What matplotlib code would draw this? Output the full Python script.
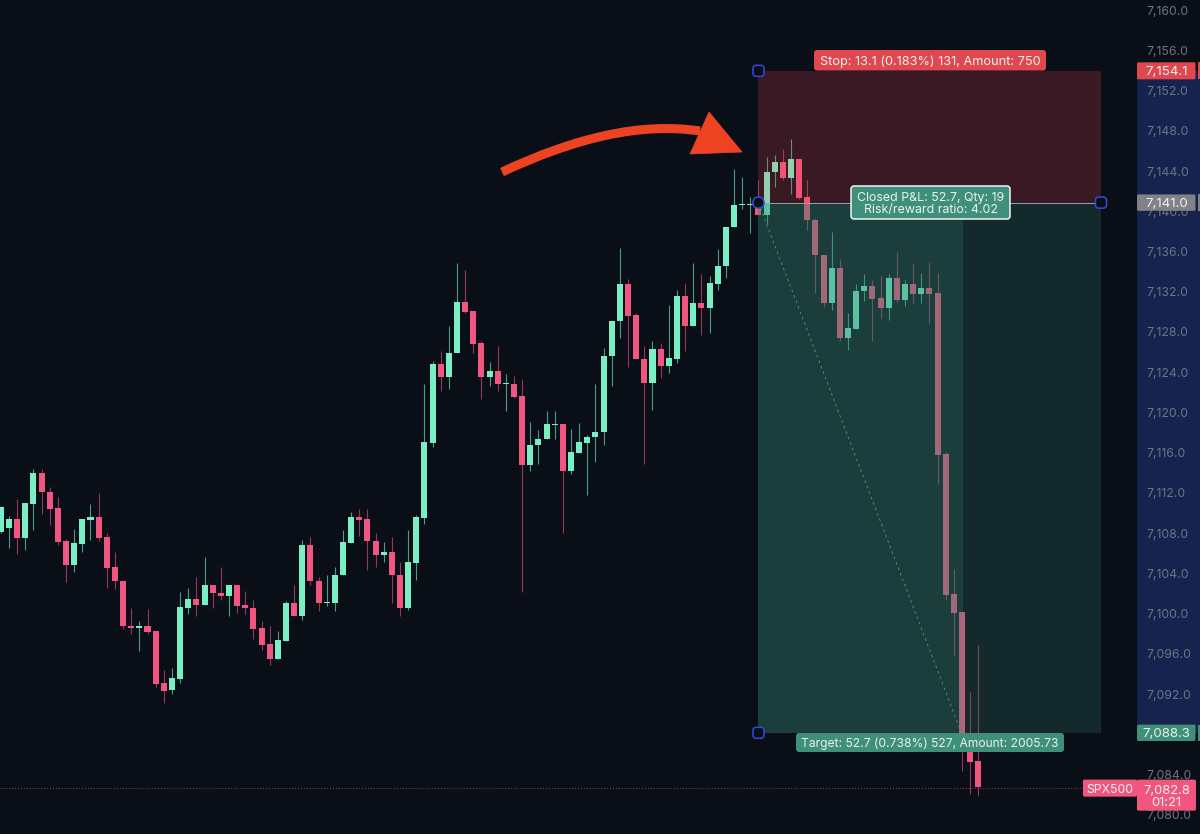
import matplotlib
matplotlib.use('Agg')
import matplotlib.pyplot as plt
import numpy as np
from matplotlib.patches import Rectangle, FancyBboxPatch, Polygon, PathPatch
from matplotlib.path import Path

plt.rcParams['font.family'] = ['Inter', 'DejaVu Sans']

# --- Candle data ---
opens = [7108.1, 7108.5, 7109.4, 7107.5, 7110.9, 7114.0, 7112.1, 7110.5, 7107.2, 7104.8,
         7106.9, 7109.3, 7109.6, 7107.6, 7104.6, 7103.2, 7098.8, 7098.6, 7098.8, 7098.3,
         7093.1, 7092.4, 7093.5, 7100.6, 7101.5, 7100.9, 7102.9, 7102.1, 7101.8, 7102.9,
         7100.9, 7100.6, 7098.6, 7097.0, 7095.5, 7097.3, 7101.1, 7099.8, 7106.8, 7103.2,
         7101.1, 7101.1, 7103.8, 7107.0, 7109.6, 7109.4, 7107.2, 7105.8, 7106.1, 7103.8,
         7100.6, 7105.0, 7109.5, 7117.0, 7124.8, 7123.5, 7125.9, 7131.0, 7130.1, 7126.9,
         7123.5, 7124.1, 7122.8, 7122.8, 7121.6, 7114.8, 7116.8, 7117.4, 7118.8, 7118.9,
         7114.2, 7116.0, 7117.0, 7117.6, 7118.1, 7125.6, 7129.1, 7132.8, 7129.7, 7125.3,
         7122.9, 7126.3, 7124.6, 7125.3, 7131.6, 7128.6, 7130.9, 7130.4, 7132.8, 7134.6,
         7138.4, 7140.6, 7140.6, 7140.5, 7139.6, 7143.9, 7144.9, 7143.3, 7145.2, 7141.4,
         7139.1, 7135.7, 7130.9, 7134.4, 7127.4, 7128.3, 7132.1, 7132.6, 7131.4, 7130.4,
         7133.4, 7131.2, 7132.8, 7131.8, 7132.4, 7131.9, 7115.9, 7102.0, 7100.2, 7086.3, 7085.4]
highs = [7110.7, 7109.7, 7111.4, 7111.0, 7114.4, 7114.4, 7112.6, 7111.6, 7107.4, 7108.4,
         7109.4, 7110.9, 7112.0, 7108.0, 7106.1, 7103.2, 7100.6, 7099.3, 7100.5, 7098.3,
         7094.4, 7094.6, 7102.2, 7102.6, 7103.6, 7105.6, 7102.9, 7104.6, 7102.9, 7102.9,
         7102.3, 7101.4, 7099.3, 7098.8, 7098.3, 7101.3, 7102.9, 7107.3, 7107.6, 7103.6,
         7103.8, 7104.6, 7108.3, 7110.1, 7110.4, 7110.4, 7108.0, 7107.1, 7107.6, 7105.1,
         7108.3, 7109.8, 7122.8, 7125.1, 7126.1, 7128.6, 7134.9, 7134.2, 7130.1, 7127.1,
         7125.0, 7126.6, 7123.8, 7123.6, 7123.3, 7119.1, 7118.3, 7120.1, 7120.1, 7118.9,
         7118.4, 7119.0, 7117.8, 7122.8, 7126.4, 7129.1, 7136.3, 7133.3, 7129.9, 7126.6,
         7127.1, 7126.9, 7130.7, 7132.2, 7132.9, 7134.9, 7133.8, 7133.6, 7136.2, 7138.4,
         7144.2, 7143.4, 7141.4, 7143.1, 7145.4, 7145.6, 7146.2, 7147.2, 7145.2, 7143.1,
         7139.3, 7135.7, 7137.9, 7135.3, 7129.9, 7132.8, 7133.8, 7133.2, 7133.6, 7133.8,
         7136.0, 7133.2, 7134.9, 7133.9, 7135.0, 7133.9, 7116.1, 7104.4, 7100.2, 7092.2, 7096.9]
lows = [7108.0, 7106.5, 7105.9, 7106.3, 7108.3, 7109.9, 7108.8, 7106.8, 7103.1, 7104.1,
        7106.1, 7107.3, 7107.2, 7102.6, 7102.5, 7098.5, 7098.0, 7096.3, 7098.0, 7092.7,
        7091.1, 7092.0, 7093.1, 7100.0, 7099.8, 7100.9, 7100.6, 7101.4, 7099.8, 7100.1,
        7100.0, 7097.5, 7096.4, 7094.9, 7095.5, 7097.3, 7099.8, 7099.4, 7102.9, 7100.3,
        7100.8, 7100.3, 7103.8, 7107.0, 7107.7, 7104.3, 7104.6, 7105.1, 7101.1, 7099.8,
        7100.4, 7103.3, 7108.9, 7116.6, 7122.1, 7122.3, 7125.9, 7129.9, 7125.9, 7121.3,
        7122.6, 7122.1, 7120.1, 7121.4, 7102.2, 7114.2, 7114.9, 7117.4, 7117.4, 7108.0,
        7113.9, 7116.0, 7111.8, 7115.1, 7116.8, 7122.6, 7127.4, 7124.5, 7125.3, 7114.9,
        7120.2, 7123.4, 7123.9, 7124.9, 7126.1, 7128.6, 7127.7, 7127.9, 7132.2, 7133.4,
        7138.4, 7140.2, 7137.8, 7139.6, 7138.7, 7142.4, 7143.1, 7141.7, 7141.2, 7138.1,
        7131.9, 7130.5, 7130.2, 7127.1, 7126.2, 7128.3, 7131.1, 7127.1, 7129.4, 7129.2,
        7131.0, 7130.6, 7130.9, 7130.9, 7128.9, 7112.9, 7101.4, 7095.9, 7084.4, 7082.1, 7081.9]
closes = [7110.6, 7109.4, 7107.5, 7111.0, 7114.0, 7112.1, 7110.4, 7107.1, 7104.8, 7107.0,
          7109.4, 7109.6, 7107.5, 7104.5, 7103.2, 7098.8, 7098.6, 7098.8, 7098.2, 7093.0,
          7092.3, 7093.6, 7100.7, 7101.5, 7100.9, 7102.9, 7102.1, 7101.8, 7102.9, 7100.8,
          7100.6, 7098.5, 7096.9, 7095.5, 7097.4, 7101.1, 7099.8, 7106.8, 7103.2, 7101.1,
          7101.2, 7103.8, 7107.1, 7109.6, 7109.3, 7107.2, 7105.8, 7106.1, 7103.8, 7100.6,
          7105.1, 7109.6, 7117.1, 7124.8, 7123.5, 7125.9, 7131.0, 7130.0, 7126.8, 7123.5,
          7124.1, 7122.8, 7122.9, 7121.5, 7114.8, 7116.8, 7117.4, 7118.9, 7118.9, 7114.2,
          7116.1, 7117.1, 7117.6, 7118.1, 7125.6, 7129.1, 7132.8, 7129.6, 7125.3, 7122.9,
          7126.3, 7124.6, 7125.4, 7131.6, 7128.6, 7130.9, 7130.4, 7132.9, 7134.6, 7138.4,
          7140.6, 7140.7, 7140.7, 7139.6, 7143.9, 7144.9, 7143.3, 7145.2, 7141.3, 7139.1,
          7135.7, 7130.9, 7134.4, 7127.4, 7128.4, 7132.1, 7132.6, 7131.3, 7130.4, 7133.4,
          7131.2, 7132.8, 7131.8, 7132.4, 7131.8, 7115.8, 7101.9, 7100.1, 7086.3, 7085.3, 7082.8]

# 7,088.0 sits hidden under the target tag, so it is left out
y_ticks = [7160, 7156, 7152, 7148, 7144, 7140, 7136, 7132, 7128, 7124, 7120, 7116, 7112,
           7108, 7104, 7100, 7096, 7092, 7084, 7080]

stop_price = 7154.1
entry_price = 7141.0
target_price = 7088.3
last_price = 7082.8

BG = '#0A0E17'
UP = '#7AEFC3'
DOWN = '#F0567F'
UP_WICK = '#4C9A88'
DOWN_WICK = '#93395A'
TEAL = '#3F8F7A'
STOP_RED = '#E0474F'
HANDLE = '#2F4BE0'

# candle index <-> pixel
STEP = 8.145
X0 = 0.9
# drawing tool and tags sit a little lower than the tick labels suggest
TOOL_SHIFT = 0.14


def idx(px):
    return (px - X0) / STEP


def price_px(price):
    return (7161 - price + TOOL_SHIFT) / 0.0994


# --- Plotting ---
fig = plt.figure(figsize=(12, 8.34), dpi=100, facecolor=BG)
ax = fig.add_axes([0, 0, 1137 / 1200, 1], facecolor=BG)
ax.set_xlim(idx(0), idx(1137))
ax.set_ylim(7078.1, 7161)
for s in ax.spines.values():
    s.set_visible(False)
ax.xaxis.set_visible(False)

o = np.array(opens)
c = np.array(closes)
x = np.arange(len(o))
up = c >= o

# candles
ax.vlines(x[up], np.array(lows)[up], np.array(highs)[up], color=UP_WICK, lw=0.8, zorder=1.5)
ax.vlines(x[~up], np.array(lows)[~up], np.array(highs)[~up], color=DOWN_WICK, lw=0.8, zorder=1.5)
body = np.abs(c - o)
ax.bar(x, body, bottom=np.minimum(o, c), width=0.74, color=[UP if u else DOWN for u in up],
       linewidth=0, zorder=2)

# position tool
pos_left = 93
pos_mid = idx(963)
pos_right = idx(1101)
stop_y = stop_price - TOOL_SHIFT
entry_y = entry_price - TOOL_SHIFT
target_y = target_price - TOOL_SHIFT
ax.add_patch(Rectangle((pos_left, entry_y), pos_right - pos_left, stop_y - entry_y,
                       facecolor='#FA4B5A', alpha=0.2, linewidth=0, zorder=3))
ax.add_patch(Rectangle((pos_left, target_y), pos_right - pos_left, entry_y - target_y,
                       facecolor='#358371', alpha=0.24, linewidth=0, zorder=3))
ax.add_patch(Rectangle((pos_left, target_y), pos_mid - pos_left, entry_y - target_y,
                       facecolor='#358371', alpha=0.24, linewidth=0, zorder=3))
ax.hlines(entry_y, pos_left, pos_right, color='#94A6A1', lw=0.7, zorder=4)
ax.plot([pos_left, pos_mid - 0.2], [entry_y, target_y], color='#6A8F8A', lw=0.6,
        ls=(0, (3, 4)), zorder=4)

# last price dotted line
ax.hlines(last_price - TOOL_SHIFT, idx(0), idx(1083), color='#A0405F', lw=0.7, ls=(0, (1, 2)), zorder=1)

# price axis
ax.yaxis.tick_right()
ax.set_yticks(y_ticks)
ax.set_yticklabels([f'{t:,.1f}' for t in y_ticks])
ax.tick_params(axis='y', length=0, pad=6.5, labelsize=8.8, labelcolor='#6E7480')
ax.add_patch(Rectangle((1, target_y), 63 / 1137, stop_y - target_y,
                       transform=ax.get_yaxis_transform(), facecolor='#16234F', linewidth=0,
                       clip_on=False, zorder=-1))

# overlay in pixels for tags and drawing tools
ov = fig.add_axes([0, 0, 1, 1], zorder=5)
ov.set_xlim(0, 1200)
ov.set_ylim(834, 0)
ov.axis('off')


def chip(x0, y0, x1, y1, color, text=None, rounding=3, text_color='#EAF2EF', size=8.8, **kw):
    ov.add_patch(FancyBboxPatch((x0, y0), x1 - x0, y1 - y0,
                                boxstyle=f'round,pad=0,rounding_size={rounding}',
                                facecolor=color, linewidth=kw.get('lw', 0),
                                edgecolor=kw.get('ec', 'none')))
    if text:
        ov.text((x0 + x1) / 2, (y0 + y1) / 2, text, color=text_color, fontsize=size,
                ha='center', va='center_baseline', linespacing=1.05)


# right-hand price tags
for price, col, h in [(stop_price, STOP_RED, 8.5), (entry_price, '#808285', 8.2), (target_price, TEAL, 8.2)]:
    y = price_px(price)
    chip(1137, y - h, 1195.5, y + h, col, f'{price:,.1f}', rounding=1.5, size=9.6)
    ov.add_patch(Rectangle((1198, y - h), 2, 2 * h, facecolor=col, linewidth=0))

y_last = price_px(last_price)
chip(1083, y_last - 8.5, 1137, y_last + 8.5, DOWN, 'SPX500', rounding=1.5)
chip(1137, y_last - 8.5, 1196, y_last + 22.5, DOWN, f'{last_price:,.1f}\n01:21', rounding=1.5, size=9.4)

# position labels
chip(814, 50, 1046, 70.5, STOP_RED, 'Stop: 13.1 (0.183%) 131, Amount: 750', size=9.2)
chip(796, 733, 1064, 752, TEAL, 'Target: 52.7 (0.738%) 527, Amount: 2005.73', size=8.7)
chip(851, 186, 1010, 219, TEAL, 'Closed P&L: 52.7, Qty: 19\nRisk/reward ratio: 4.02', lw=1.1, ec='#F2F5F4', size=8.9)

# drag handles
for hx, hy, r in [(758.5, price_px(stop_price), 3), (758.5, price_px(entry_price), 5.5),
                  (1101, price_px(entry_price), 3), (758.5, price_px(target_price), 3)]:
    ov.add_patch(FancyBboxPatch((hx - 5.5, hy - 5.5), 11, 11,
                                boxstyle=f'round,pad=0,rounding_size={r}',
                                facecolor=BG, edgecolor=HANDLE, linewidth=1.1))

# hand-drawn arrow
ORANGE = '#EE4323'
ov.add_patch(PathPatch(Path([(502, 172), (575, 138), (640, 122), (700, 131)],
                            [Path.MOVETO, Path.CURVE4, Path.CURVE4, Path.CURVE4]),
                       facecolor='none', edgecolor=ORANGE, linewidth=6.5, capstyle='butt'))
ov.add_patch(Polygon([(709, 112), (742, 152), (690, 154)], closed=True, facecolor=ORANGE,
                     edgecolor=ORANGE, linewidth=0.5))

fig.savefig('out.png', dpi=100, facecolor=BG)
